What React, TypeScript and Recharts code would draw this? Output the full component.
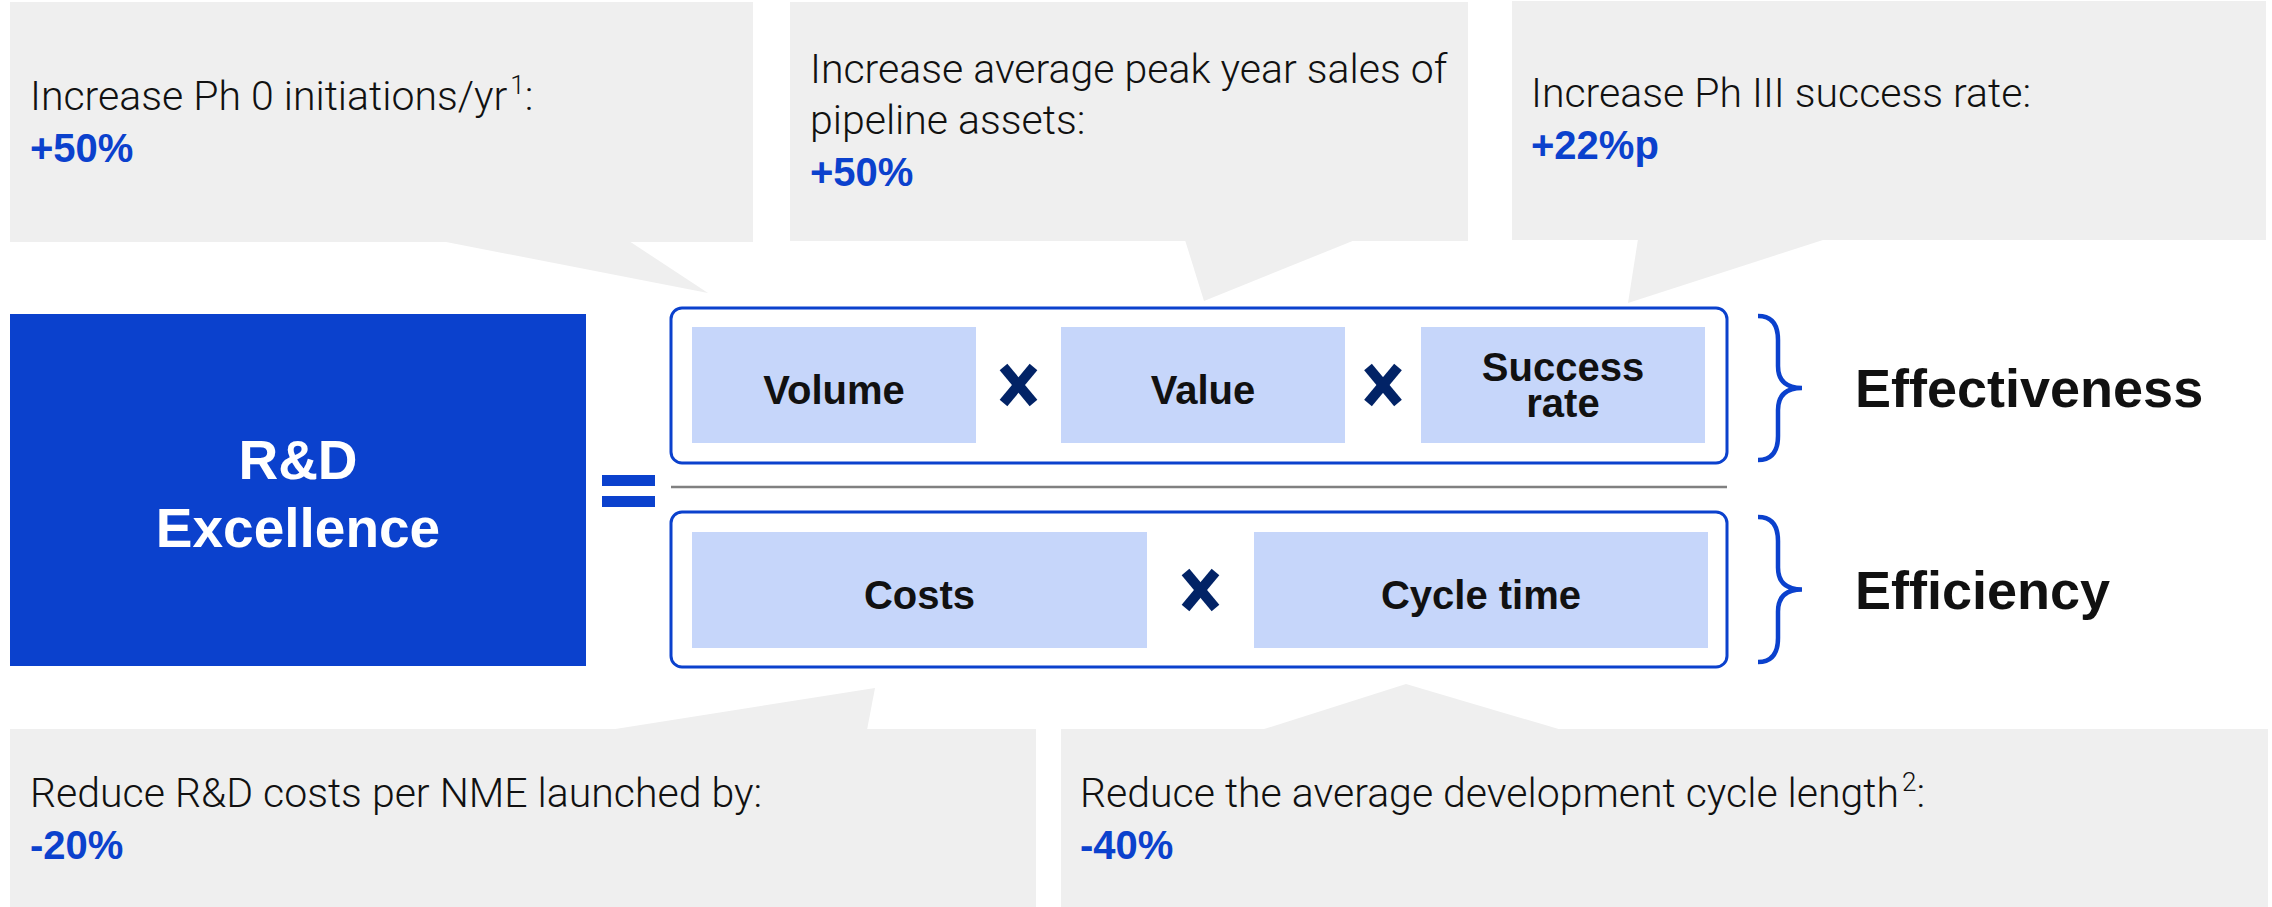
import React from 'react'
import { ScatterChart, Scatter, XAxis, YAxis, ReferenceArea, ReferenceLine } from 'recharts'

const WIDTH = 2272
const HEIGHT = 907

const BLUE = '#0b41cd'
const NAVY = '#022366'
const PALE = '#c6d6fa'
const GREY = '#efefef'
const INK = '#111111'
const BOLD_FONT = '"Liberation Sans", Arial, sans-serif'
const THIN_FONT = 'Roboto, "Liberation Sans", Arial, sans-serif'

// ---- data ----
const calloutLeads = [
  'Increase Ph 0 initiations/yr',
  'Increase average peak year sales of pipeline assets:',
  'Increase Ph III success rate:',
  'Reduce R&D costs per NME launched by:',
  'Reduce the average development cycle length',
]
const calloutFootnotes = ['1', '', '', '', '2']
const calloutTargets = ['+50%', '+50%', '+22%p', '-20%', '-40%']
const headline = ['R&D', 'Excellence']
const effectivenessFactors = ['Volume', 'Value', 'Success rate']
const efficiencyFactors = ['Costs', 'Cycle time']
const dimensions = ['Effectiveness', 'Efficiency']

// ---- layout (pixels, axes are 1:1 with the page) ----
const calloutLayout = [
  { x: 10, y: 2, w: 743, h: 240, tail: [[431, 239], [698, 291], [619, 239]], tx: 20, ty: 108, wrap: 99 },
  { x: 790, y: 2, w: 678, h: 239, tail: [[395, 238], [414, 299], [565, 238]], tx: 20, ty: 81, wrap: 36 },
  { x: 1512, y: 1, w: 754, h: 239, tail: [[126, 238], [116, 302], [314, 238]], tx: 19, ty: 106, wrap: 99 },
  { x: 10, y: 729, w: 1026, h: 178, tail: [[599, 1], [865, -41], [857, 1]], tx: 20, ty: 78, wrap: 99 },
  { x: 1061, y: 729, w: 1207, h: 178, tail: [[200, 1], [345, -45], [501, 1]], tx: 19, ty: 78, wrap: 99 },
]
const LINE_H = 51
const FACTOR_H = 116
const rowLayout = [
  { y: 327, boxes: [[692, 284], [1061, 284], [1421, 284]], split: [false, false, true] },
  { y: 532, boxes: [[692, 455], [1254, 454]], split: [false, false] },
]
const frameLayout = [
  { x: 671, y: 308, w: 1056, h: 155 },
  { x: 671, y: 512, w: 1056, h: 155 },
]
const braceLayout = [
  { x: 1758, y: 316, h: 144 },
  { x: 1758, y: 517, h: 145 },
]
const headlineBox = { x: 10, y: 314, w: 576, h: 352 }

const wrapWords = (s: string, max: number) => {
  const out: string[] = []
  let cur = ''
  s.split(' ').forEach((w) => {
    const next = cur ? cur + ' ' + w : w
    if (next.length > max && cur) {
      out.push(cur)
      cur = w
    } else cur = next
  })
  if (cur) out.push(cur)
  return out
}

const callouts = calloutLeads.map((lead, i) => ({
  ...calloutLayout[i],
  lead,
  note: calloutFootnotes[i],
  target: calloutTargets[i],
}))

const factorRows = [effectivenessFactors, efficiencyFactors].flatMap((labels, r) =>
  labels.map((label, i) => ({
    x: rowLayout[r].boxes[i][0],
    y: rowLayout[r].y,
    w: rowLayout[r].boxes[i][1],
    h: FACTOR_H,
    label,
    split: rowLayout[r].split[i],
  }))
)

// multiplication marks sit in the middle of each gap
const timesMarks = [effectivenessFactors, efficiencyFactors].flatMap((labels, r) =>
  labels.slice(1).map((_, i) => {
    const a = rowLayout[r].boxes[i]
    const b = rowLayout[r].boxes[i + 1]
    return { x: (a[0] + a[1] + b[0]) / 2, y: rowLayout[r].y + FACTOR_H / 2 }
  })
)

const frames = frameLayout.map((f) => ({ ...f }))
const braces = dimensions.map((label, i) => ({ ...braceLayout[i], label }))
const headlineRows = [{ ...headlineBox, lines: headline }]

const Callout = (p: any) => {
  const { cx, cy, payload: d } = p
  const lines = wrapWords(d.lead, d.wrap)
  const pts = d.tail.map(([dx, dy]: number[]) => `${cx + dx},${cy + dy}`).join(' ')
  const tx = cx + d.tx
  return (
    <g>
      <rect x={cx} y={cy} width={d.w} height={d.h} fill={GREY} />
      <polygon points={pts} fill={GREY} />
      <text fontFamily={THIN_FONT} fontWeight={300} fontSize={41} fill={INK}>
        {lines.map((l, i) => (
          <tspan key={i} x={tx} y={cy + d.ty + i * LINE_H}>
            {l}
            {i === lines.length - 1 && d.note ? (
              <>
                <tspan dx={3} dy={-16} fontSize={26}>{d.note}</tspan>
                <tspan dy={16}>:</tspan>
              </>
            ) : null}
          </tspan>
        ))}
      </text>
      <text x={tx} y={cy + d.ty + lines.length * LINE_H + 1} fontFamily={BOLD_FONT} fontWeight={700} fontSize={40} fill={BLUE}>
        {d.target}
      </text>
    </g>
  )
}

const Factor = (p: any) => {
  const { cx, cy, payload: d } = p
  const mid = cx + d.w / 2
  const cyMid = cy + d.h / 2
  const words = d.split ? d.label.split(' ') : [d.label]
  return (
    <g>
      <rect x={cx} y={cy} width={d.w} height={d.h} fill={PALE} />
      <text textAnchor="middle" fontFamily={BOLD_FONT} fontWeight={700} fontSize={40} fill={INK}>
        {words.map((w: string, i: number) => (
          <tspan key={i} x={mid} y={words.length > 1 ? cyMid - 4 + i * 36 : cyMid + 19}>
            {w}
          </tspan>
        ))}
      </text>
    </g>
  )
}

const Times = (p: any) => {
  const { cx, cy } = p
  return (
    <g stroke={NAVY} strokeWidth={10}>
      <line x1={cx - 15} y1={cy - 18} x2={cx + 15} y2={cy + 18} />
      <line x1={cx + 15} y1={cy - 18} x2={cx - 15} y2={cy + 18} />
    </g>
  )
}

const Frame = (p: any) => {
  const { cx, cy, payload: d } = p
  return <rect x={cx} y={cy} width={d.w} height={d.h} rx={11} fill="#fff" stroke={BLUE} strokeWidth={3} />
}

const Brace = (p: any) => {
  const { cx, cy, payload: d } = p
  const x1 = cx + 20
  const tip = cx + 44
  const mid = cy + d.h / 2
  const bot = cy + d.h
  const path = `M ${cx} ${cy} Q ${x1} ${cy} ${x1} ${cy + 24} L ${x1} ${mid - 22} Q ${x1} ${mid} ${tip} ${mid} Q ${x1} ${mid} ${x1} ${mid + 22} L ${x1} ${bot - 24} Q ${x1} ${bot} ${cx} ${bot}`
  return (
    <g>
      <path d={path} fill="none" stroke={BLUE} strokeWidth={4.5} />
      <text x={cx + 97} y={mid + 19} fontFamily={BOLD_FONT} fontWeight={700} fontSize={54} fill={INK}>
        {d.label}
      </text>
    </g>
  )
}

const Headline = (p: any) => {
  const { cx, cy, payload: d } = p
  const mid = cx + d.w / 2
  return (
    <g>
      <rect x={cx} y={cy} width={d.w} height={d.h} fill={BLUE} />
      <text textAnchor="middle" fontFamily={BOLD_FONT} fontWeight={700} fontSize={55} fill="#fff">
        {d.lines.map((l: string, i: number) => (
          <tspan key={i} x={mid} y={cy + 165 + i * 68}>
            {l}
          </tspan>
        ))}
      </text>
    </g>
  )
}

export default function App() {
  return (
    <div style={{ width: WIDTH, height: HEIGHT, background: '#fff' }}>
      <style>{'body{margin:0}'}</style>
      <ScatterChart width={WIDTH} height={HEIGHT} margin={{ top: 0, right: 0, bottom: 0, left: 0 }}>
        <XAxis type="number" dataKey="x" domain={[0, WIDTH]} allowDataOverflow hide />
        <YAxis type="number" dataKey="y" domain={[0, HEIGHT]} allowDataOverflow reversed hide />
        <Scatter data={callouts} shape={<Callout />} isAnimationActive={false} />
        <Scatter data={headlineRows} shape={<Headline />} isAnimationActive={false} />
        <ReferenceArea x1={602} x2={655} y1={475} y2={486} fill={BLUE} fillOpacity={1} stroke="none" />
        <ReferenceArea x1={602} x2={655} y1={496} y2={507} fill={BLUE} fillOpacity={1} stroke="none" />
        <Scatter data={frames} shape={<Frame />} isAnimationActive={false} />
        <ReferenceLine segment={[{ x: 671, y: 487 }, { x: 1727, y: 487 }]} stroke="#808080" strokeWidth={2.5} />
        <Scatter data={factorRows} shape={<Factor />} isAnimationActive={false} />
        <Scatter data={timesMarks} shape={<Times />} isAnimationActive={false} />
        <Scatter data={braces} shape={<Brace />} isAnimationActive={false} />
      </ScatterChart>
    </div>
  )
}
